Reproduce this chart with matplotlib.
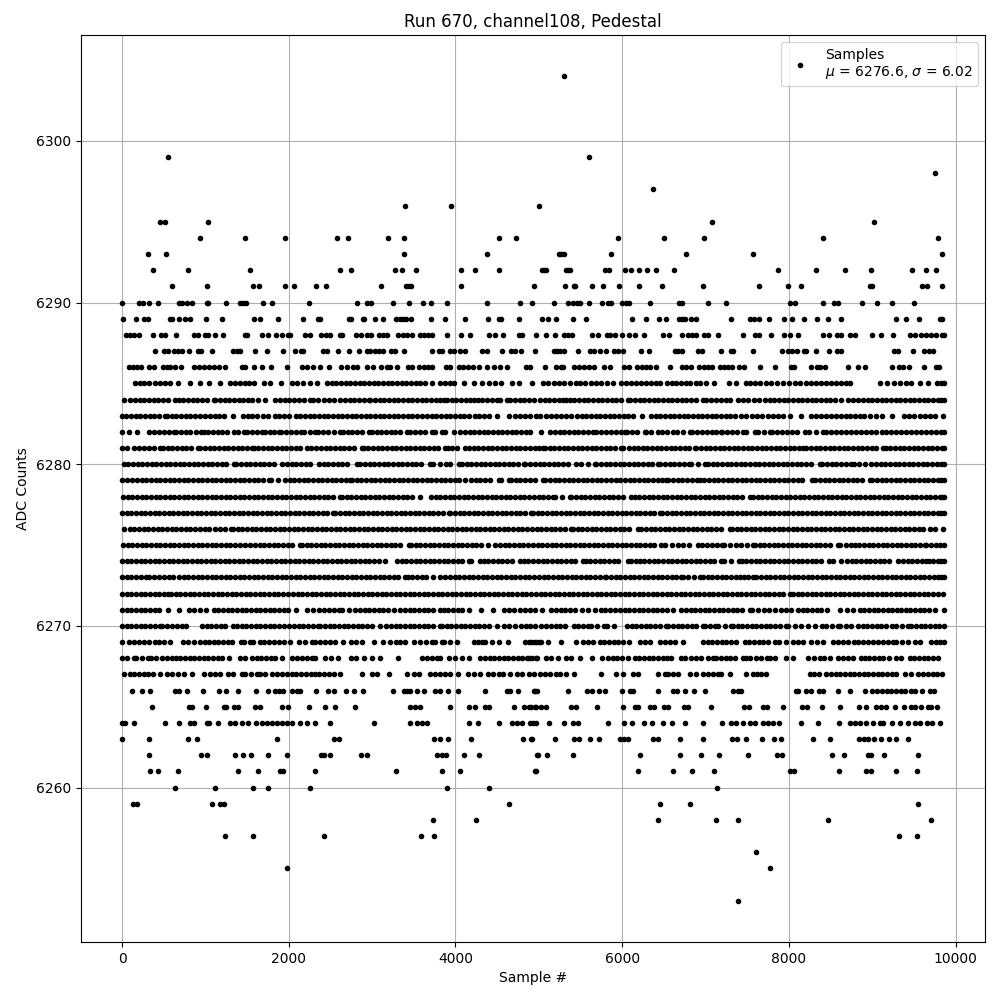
import matplotlib
matplotlib.use('Agg')
import matplotlib.pyplot as plt

# sample numbers at each ADC level
x_6304 = [5296]
x_6299 = [548, 5596]
x_6298 = [9748]
x_6297 = [6364]
x_6296 = [3392, 3944, 4996]
x_6295 = [452, 516, 1028, 7072, 9016]
x_6294 = [932, 1472, 1952, 2580, 2708, 3188, 3380, 4520, 4724, 5944, 6496, 6976, 8404, 9784]
x_6293 = [308, 524, 3380, 4376, 5236, 5264, 5296, 5860, 6760, 7564, 9832]
x_6292 = [368, 788, 1532, 2612, 2744, 3272, 3360, 3524, 4064, 4232, 4520, 5036, 5064, 5088, 5320, 5344,
          5368, 5788, 5836, 6028, 6100, 6196, 6292, 6400, 6616, 7864, 8320, 8668, 8980, 9472, 9640, 9760]
x_6291 = [596, 1016, 1568, 1640, 1952, 2060, 2324, 2444, 3104, 3412, 3440, 3464, 4064, 4940, 5308, 5416,
          5432, 5632, 5764, 5956, 6196, 6472, 6964, 7636, 7984, 8140, 8968, 8992, 9592, 9652, 9832]
x_6290 = [0, 200, 248, 320, 428, 680, 716, 776, 836, 1016, 1028, 1244, 1412, 1448, 1484, 1688, 1796, 2240,
          2816, 2936, 2984, 3248, 3440, 3608, 3704, 3896, 4376, 4772, 4916, 5176, 5344, 5404, 5452, 5488,
          5596, 5752, 5824, 5860, 5992, 6040, 6076, 6328, 6676, 6712, 7024, 7240, 8008, 8068, 8404, 8536,
          8584, 8872, 9052, 9232, 9496]
x_6289 = [8, 164, 260, 308, 572, 596, 680, 752, 812, 1004, 1196, 1580, 1652, 1868, 2168, 2348, 2372, 2720,
          2744, 2888, 2908, 3032, 3128, 3284, 3332, 3368, 3404, 3464, 3704, 3872, 4112, 4388, 4520, 4544,
          4760, 5032, 5104, 5200, 5404, 5560, 6112, 6280, 6436, 6520, 6676, 6712, 6748, 6820, 6880, 7300,
          7528, 7576, 7636, 7756, 7936, 8032, 8176, 8332, 8464, 8620, 9280, 9400, 9556, 9808, 9832]
x_6288 = [48, 92, 140, 200, 368, 464, 512, 644, 860, 908, 992, 1028, 1112, 1208, 1472, 1496, 1676, 1748,
          1844, 1916, 1988, 2012, 2192, 2252, 2384, 2444, 2492, 2612, 2644, 2804, 2864, 2936, 2984, 3080,
          3128, 3176, 3308, 3368, 3420, 3476, 3572, 3620, 3668, 3716, 3896, 4064, 4172, 4400, 4472, 4568,
          4760, 4796, 4960, 5080, 5188, 5296, 5344, 5392, 5632, 5704, 5812, 5848, 5908, 5992, 6076, 6148,
          6256, 6484, 6556, 6712, 6784, 6832, 6880, 6976, 7024, 7144, 7444, 7588, 7636, 7780, 7936, 8008,
          8104, 8404, 8476, 8572, 8620, 8728, 8788, 8992, 9100, 9244, 9448, 9508, 9580, 9640, 9700, 9760,
          9832, 9860]
x_6287 = [392, 500, 548, 620, 668, 716, 800, 908, 944, 1076, 1328, 1376, 1412, 1592, 1736, 1928, 2072, 2144,
          2168, 2408, 2456, 2588, 2720, 2840, 2936, 2972, 3032, 3080, 3128, 3224, 3272, 3380, 3716, 3800,
          3836, 3932, 3980, 4052, 4112, 4316, 4376, 4556, 4664, 4712, 4784, 4952, 5176, 5216, 5256, 5296,
          5464, 5608, 5656, 5728, 5800, 5896, 5944, 6004, 6220, 6316, 6628, 6670, 6712, 6904, 6952, 7180,
          7300, 7324, 7564, 7912, 7984, 8032, 8092, 8176, 8200, 8320, 8476, 8572, 8620, 9256, 9304, 9484,
          9616, 9676, 9724]
x_6286 = [80, 128, 180, 228, 320, 380, 488, 540, 580, 632, 704, 860, 920, 980, 1040, 1100, 1160, 1232, 1436,
          1472, 1580, 1676, 1784, 1976, 2156, 2216, 2288, 2372, 2480, 2624, 2696, 2768, 2816, 2936, 3008,
          3104, 3176, 3212, 3296, 3428, 3476, 3560, 3620, 3668, 3716, 3884, 3932, 4040, 4088, 4148, 4208,
          4280, 4376, 4460, 4532, 4616, 4844, 4892, 5068, 5200, 5260, 5284, 5416, 5476, 5536, 5596, 5656,
          5776, 5848, 6016, 6076, 6176, 6236, 6280, 6328, 6400, 6568, 6712, 6760, 6820, 6916, 6976, 7024,
          7072, 7168, 7216, 7264, 7312, 7396, 7456, 7648, 7828, 8020, 8056, 8260, 8332, 8368, 8428, 8704,
          8824, 8908, 9232, 9316, 9364, 9436, 9616, 9760, 9796]
x_6285 = [160, 212, 268, 320, 400, 456, 520, 580, 672, 812, 940, 1040, 1172, 1300, 1356, 1412, 1472, 1528,
          1588, 1700, 1780, 1908, 2040, 2104, 2172, 2260, 2340, 2460, 2516, 2572, 2628, 2684, 2740, 2796,
          2852, 2908, 2964, 3020, 3076, 3132, 3188, 3244, 3300, 3356, 3412, 3468, 3524, 3580, 3636, 3720,
          3820, 3876, 3932, 3980, 4100, 4220, 4320, 4400, 4480, 4548, 4680, 4760, 4920, 5048, 5112, 5176,
          5240, 5296, 5372, 5448, 5488, 5556, 5624, 5688, 5748, 5816, 5888, 5988, 6048, 6108, 6168, 6228,
          6288, 6348, 6400, 6448, 6536, 6592, 6648, 6704, 6760, 6816, 6888, 6936, 7008, 7100, 7280, 7360,
          7488, 7528, 7588, 7656, 7724, 7788, 7856, 7924, 7996, 8068, 8136, 8208, 8268, 8328, 8388, 8448,
          8508, 8568, 8628, 8688, 8728, 9096, 9176, 9256, 9332, 9408, 9468, 9576, 9668, 9776, 9820, 9860]
x_6284 = [20, 100, 156, 212, 268, 324, 380, 436, 492, 548, 640, 680, 736, 792, 848, 904, 960, 1016, 1100,
          1120, 1176, 1232, 1288, 1344, 1400, 1456, 1512, 1560, 1632, 1712, 1840, 1896, 1952, 2008, 2064,
          2120, 2180, 2260, 2292, 2356, 2420, 2480, 2548, 2620, 2676, 2732, 2788, 2844, 2900, 2960, 2980,
          3036, 3092, 3148, 3204, 3260, 3316, 3372, 3428, 3484, 3540, 3596, 3652, 3708, 3764, 3820, 3860,
          3900, 3960, 4012, 4068, 4124, 4180, 4220, 4268, 4324, 4380, 4436, 4500, 4540, 4620, 4660, 4716,
          4772, 4828, 4884, 4940, 5016, 5068, 5124, 5180, 5236, 5292, 5328, 5368, 5424, 5480, 5536, 5592,
          5648, 5704, 5760, 5816, 5872, 5928, 5984, 6068, 6096, 6152, 6208, 6264, 6320, 6376, 6432, 6488,
          6544, 6600, 6656, 6712, 6768, 6824, 6880, 6968, 7008, 7068, 7128, 7188, 7248, 7288, 7388, 7448,
          7512, 7576, 7640, 7708, 7768, 7824, 7880, 7936, 7992, 8048, 8104, 8160, 8216, 8272, 8328, 8384,
          8440, 8496, 8552, 8628, 8708, 8768, 8828, 8888, 8944, 9000, 9056, 9112, 9168, 9224, 9280, 9336,
          9392, 9448, 9504, 9560, 9616, 9672, 9728, 9784, 9830, 9860]
x_6283 = [0, 52, 108, 164, 220, 276, 332, 388, 444, 520, 540, 596, 652, 708, 764, 820, 880, 940, 1000, 1056,
          1112, 1160, 1220, 1332, 1452, 1508, 1564, 1620, 1692, 1748, 1840, 1880, 1940, 2000, 2084, 2140,
          2196, 2252, 2308, 2364, 2420, 2476, 2532, 2588, 2644, 2700, 2756, 2812, 2868, 2924, 2980, 3036,
          3092, 3148, 3204, 3260, 3316, 3372, 3428, 3484, 3540, 3600, 3660, 3716, 3772, 3828, 3884, 3940,
          3996, 4052, 4108, 4164, 4240, 4280, 4340, 4400, 4500, 4640, 4710, 4780, 4840, 4900, 4960, 5016,
          5088, 5148, 5208, 5268, 5328, 5388, 5456, 5512, 5568, 5624, 5680, 5736, 5792, 5848, 5904, 5960,
          6016, 6072, 6128, 6240, 6348, 6400, 6456, 6512, 6568, 6624, 6680, 6736, 6792, 6848, 6904, 6960,
          7016, 7072, 7128, 7184, 7240, 7296, 7352, 7428, 7488, 7552, 7616, 7680, 7744, 7808, 7868, 7928,
          8008, 8148, 8268, 8328, 8388, 8448, 8508, 8568, 8628, 8688, 8728, 8788, 8848, 8896, 8972, 9048,
          9116, 9240, 9376, 9440, 9504, 9568, 9628, 9688, 9748, 9848]
x_6282 = [0, 80, 180, 320, 380, 440, 500, 560, 620, 652, 708, 764, 820, 884, 948, 980, 1036, 1092, 1148,
          1204, 1260, 1340, 1388, 1468, 1500, 1560, 1620, 1680, 1720, 1772, 1824, 1880, 1908, 1968, 2028,
          2088, 2148, 2180, 2250, 2320, 2348, 2412, 2476, 2540, 2620, 2652, 2708, 2764, 2820, 2876, 2960,
          3000, 3056, 3112, 3168, 3224, 3280, 3336, 3420, 3460, 3520, 3580, 3640, 3720, 3760, 3840, 3880,
          3980, 4060, 4116, 4172, 4228, 4284, 4340, 4396, 4452, 4508, 4564, 4620, 4676, 4732, 4788, 4844,
          4900, 5020, 5136, 5192, 5248, 5304, 5360, 5416, 5472, 5528, 5584, 5648, 5680, 5740, 5800, 5860,
          5920, 5980, 6028, 6060, 6120, 6180, 6268, 6288, 6350, 6428, 6472, 6540, 6608, 6660, 6730, 6808,
          6840, 6900, 6960, 7020, 7080, 7130, 7180, 7200, 7260, 7320, 7380, 7448, 7488, 7588, 7628, 7700,
          7776, 7800, 7860, 7920, 7980, 8040, 8100, 8188, 8240, 8320, 8408, 8440, 8500, 8560, 8620, 8680,
          8740, 8800, 8860, 8920, 8980, 9040, 9120, 9160, 9220, 9280, 9340, 9408, 9468, 9528, 9588, 9648,
          9708, 9768, 9828, 9860]
x_6281 = [0, 60, 140, 200, 260, 320, 380, 460, 490, 546, 602, 658, 714, 770, 826, 908, 940, 996, 1052, 1108,
          1164, 1220, 1276, 1332, 1388, 1444, 1500, 1560, 1580, 1636, 1692, 1748, 1804, 1860, 1916, 1972,
          2028, 2084, 2140, 2220, 2272, 2332, 2388, 2444, 2500, 2556, 2612, 2668, 2724, 2780, 2880, 2900,
          2956, 3012, 3068, 3124, 3180, 3236, 3292, 3348, 3404, 3460, 3516, 3572, 3628, 3684, 3740, 3796,
          3880, 3908, 3964, 4020, 4120, 4160, 4220, 4276, 4332, 4388, 4444, 4500, 4556, 4612, 4668, 4724,
          4780, 4836, 4892, 4948, 5004, 5048, 5072, 5128, 5184, 5240, 5296, 5352, 5408, 5464, 5520, 5576,
          5632, 5688, 5744, 5800, 5856, 5912, 5988, 6008, 6080, 6140, 6188, 6244, 6300, 6356, 6412, 6468,
          6524, 6580, 6636, 6692, 6748, 6804, 6868, 6888, 6944, 7000, 7056, 7112, 7168, 7224, 7280, 7336,
          7392, 7448, 7504, 7560, 7616, 7672, 7728, 7784, 7840, 7896, 7952, 8008, 8064, 8120, 8168, 8208,
          8264, 8320, 8376, 8432, 8488, 8544, 8600, 8656, 8712, 8768, 8824, 8880, 8936, 8992, 9048, 9128,
          9160, 9216, 9272, 9328, 9384, 9440, 9496, 9552, 9608, 9664, 9720, 9776, 9832, 9860]
x_6280 = [20, 76, 132, 188, 244, 300, 356, 412, 468, 524, 580, 636, 692, 748, 804, 860, 916, 972, 1028, 1084,
          1140, 1196, 1252, 1340, 1372, 1428, 1484, 1540, 1596, 1652, 1708, 1764, 1820, 1920, 1980, 2036,
          2092, 2148, 2204, 2260, 2360, 2420, 2476, 2532, 2588, 2644, 2700, 2820, 2860, 2916, 2972, 3028,
          3084, 3140, 3196, 3252, 3308, 3364, 3420, 3476, 3532, 3588, 3692, 3732, 3812, 3892, 3940, 4040,
          4080, 4136, 4192, 4248, 4304, 4360, 4416, 4472, 4528, 4584, 4640, 4696, 4752, 4820, 4840, 4896,
          4952, 5008, 5064, 5120, 5176, 5232, 5288, 5344, 5448, 5508, 5588, 5668, 5688, 5744, 5800, 5856,
          5912, 5968, 6024, 6080, 6136, 6192, 6248, 6304, 6360, 6428, 6456, 6512, 6568, 6624, 6680, 6736,
          6800, 6828, 6908, 6988, 7028, 7084, 7140, 7196, 7252, 7308, 7364, 7420, 7476, 7532, 7588, 7644,
          7700, 7756, 7812, 7868, 7924, 7980, 8036, 8092, 8148, 8204, 8260, 8368, 8400, 8456, 8512, 8568,
          8624, 8680, 8748, 8776, 8840, 8908, 8988, 9044, 9100, 9156, 9212, 9268, 9324, 9380, 9436, 9492,
          9548, 9604, 9660, 9716, 9772, 9828, 9860]
x_6279 = [0, 60, 120, 180, 236, 292, 348, 404, 460, 516, 572, 628, 684, 740, 796, 852, 908, 964, 1020, 1076,
          1132, 1188, 1244, 1300, 1356, 1412, 1468, 1524, 1580, 1636, 1692, 1760, 1788, 1870, 1960, 2012,
          2068, 2124, 2180, 2236, 2292, 2348, 2404, 2460, 2516, 2572, 2628, 2684, 2740, 2760, 2816, 2872,
          2928, 2984, 3040, 3096, 3152, 3208, 3264, 3320, 3376, 3432, 3488, 3544, 3600, 3656, 3712, 3768,
          3824, 3880, 3936, 3992, 4048, 4120, 4188, 4244, 4300, 4356, 4412, 4520, 4548, 4640, 4668, 4724,
          4780, 4836, 4892, 4948, 5048, 5076, 5132, 5188, 5244, 5300, 5356, 5412, 5468, 5524, 5580, 5636,
          5692, 5748, 5808, 5864, 5920, 5976, 6032, 6088, 6144, 6200, 6256, 6312, 6368, 6424, 6480, 6528,
          6552, 6608, 6664, 6720, 6776, 6832, 6900, 6928, 6984, 7040, 7096, 7152, 7208, 7264, 7320, 7376,
          7432, 7488, 7544, 7600, 7656, 7712, 7768, 7824, 7880, 7936, 7992, 8048, 8104, 8160, 8276, 8316,
          8372, 8428, 8484, 8540, 8596, 8652, 8708, 8764, 8820, 8876, 8976, 9000, 9056, 9112, 9168, 9224,
          9280, 9336, 9392, 9448, 9504, 9560, 9616, 9672, 9728, 9784, 9830, 9860]
x_6278 = [12, 68, 124, 180, 236, 292, 348, 404, 460, 516, 572, 628, 684, 740, 796, 852, 908, 964, 1020, 1076,
          1132, 1188, 1244, 1300, 1356, 1412, 1468, 1524, 1580, 1636, 1692, 1748, 1804, 1860, 1916, 1972,
          2028, 2084, 2140, 2196, 2252, 2308, 2364, 2420, 2476, 2532, 2620, 2640, 2696, 2752, 2808, 2864,
          2920, 2976, 3032, 3088, 3144, 3200, 3256, 3312, 3368, 3424, 3480, 3580, 3708, 3764, 3820, 3876,
          3932, 3988, 4044, 4100, 4156, 4212, 4268, 4324, 4380, 4436, 4492, 4548, 4604, 4660, 4716, 4772,
          4828, 4884, 4940, 4996, 5052, 5108, 5168, 5192, 5280, 5368, 5388, 5444, 5500, 5556, 5612, 5668,
          5724, 5780, 5836, 5892, 5948, 6004, 6108, 6148, 6204, 6260, 6316, 6372, 6428, 6484, 6540, 6596,
          6652, 6708, 6764, 6820, 6876, 6932, 6988, 7044, 7100, 7156, 7212, 7268, 7324, 7380, 7436, 7528,
          7568, 7624, 7680, 7736, 7792, 7848, 7904, 7960, 8016, 8072, 8128, 8184, 8240, 8296, 8352, 8408,
          8464, 8520, 8576, 8632, 8688, 8744, 8800, 8856, 8912, 8968, 9024, 9080, 9136, 9192, 9248, 9304,
          9360, 9416, 9472, 9528, 9584, 9640, 9696, 9752, 9808, 9840, 9860]
x_6277 = [0, 56, 112, 168, 224, 280, 336, 392, 448, 504, 560, 616, 672, 728, 784, 840, 896, 952, 1008, 1064,
          1120, 1176, 1232, 1288, 1344, 1400, 1456, 1512, 1568, 1624, 1680, 1736, 1792, 1848, 1904, 1960,
          2016, 2072, 2128, 2184, 2240, 2296, 2352, 2408, 2464, 2532, 2560, 2616, 2672, 2728, 2784, 2840,
          2896, 2952, 3008, 3064, 3120, 3176, 3232, 3288, 3344, 3400, 3456, 3512, 3568, 3624, 3680, 3736,
          3792, 3848, 3920, 3940, 3996, 4052, 4108, 4164, 4220, 4276, 4332, 4388, 4444, 4500, 4556, 4612,
          4668, 4724, 4780, 4836, 4908, 4928, 4984, 5040, 5096, 5152, 5208, 5264, 5320, 5376, 5432, 5488,
          5544, 5600, 5656, 5712, 5768, 5824, 5880, 5936, 5992, 6048, 6104, 6160, 6216, 6272, 6328, 6384,
          6456, 6480, 6536, 6592, 6648, 6704, 6760, 6816, 6872, 6928, 6984, 7040, 7096, 7152, 7208, 7264,
          7320, 7376, 7432, 7488, 7544, 7600, 7656, 7712, 7768, 7824, 7880, 7936, 7992, 8048, 8104, 8160,
          8216, 8272, 8328, 8384, 8440, 8496, 8552, 8608, 8664, 8720, 8776, 8832, 8888, 8944, 9000, 9056,
          9112, 9168, 9224, 9280, 9336, 9392, 9448, 9504, 9560, 9616, 9672, 9728, 9784, 9830, 9860]
x_6276 = [28, 92, 148, 204, 260, 316, 372, 428, 484, 540, 596, 652, 708, 764, 820, 876, 932, 1000, 1048, 1112,
          1176, 1240, 1308, 1332, 1388, 1444, 1500, 1556, 1612, 1668, 1724, 1780, 1836, 1892, 1948, 2004,
          2060, 2116, 2172, 2228, 2284, 2340, 2396, 2452, 2508, 2564, 2620, 2676, 2732, 2788, 2844, 2900,
          2956, 3012, 3068, 3124, 3180, 3236, 3292, 3348, 3404, 3460, 3516, 3572, 3628, 3684, 3740, 3796,
          3852, 3908, 3964, 4020, 4076, 4132, 4188, 4244, 4300, 4356, 4412, 4468, 4524, 4580, 4636, 4692,
          4748, 4804, 4860, 4916, 4972, 5028, 5084, 5140, 5196, 5252, 5308, 5388, 5408, 5464, 5520, 5576,
          5632, 5688, 5744, 5800, 5856, 5912, 5968, 6024, 6080, 6188, 6228, 6284, 6340, 6396, 6452, 6508,
          6564, 6620, 6676, 6732, 6788, 6844, 6900, 6956, 7012, 7068, 7124, 7180, 7288, 7316, 7372, 7428,
          7484, 7540, 7596, 7652, 7708, 7764, 7820, 7876, 7932, 7988, 8044, 8100, 8156, 8212, 8268, 8324,
          8380, 8436, 8492, 8548, 8604, 8660, 8716, 8772, 8828, 8884, 8940, 8996, 9052, 9108, 9164, 9220,
          9276, 9332, 9388, 9444, 9500, 9556, 9612, 9688, 9752, 9848]
x_6275 = [12, 68, 124, 180, 236, 292, 348, 404, 460, 516, 572, 628, 684, 740, 796, 852, 908, 964, 1020, 1076,
          1132, 1188, 1244, 1300, 1356, 1412, 1480, 1540, 1596, 1652, 1708, 1764, 1820, 1876, 1932, 1988,
          2044, 2132, 2160, 2216, 2272, 2328, 2384, 2440, 2496, 2552, 2608, 2664, 2720, 2776, 2832, 2888,
          2944, 3000, 3056, 3112, 3168, 3224, 3280, 3336, 3440, 3468, 3524, 3580, 3636, 3692, 3748, 3804,
          3860, 3916, 3972, 4028, 4084, 4140, 4196, 4252, 4308, 4388, 4480, 4536, 4592, 4648, 4704, 4760,
          4816, 4872, 4928, 4984, 5040, 5096, 5152, 5208, 5264, 5320, 5376, 5432, 5488, 5544, 5600, 5656,
          5712, 5768, 5824, 5880, 5936, 5992, 6048, 6104, 6160, 6216, 6272, 6328, 6384, 6468, 6508, 6600,
          6668, 6732, 6796, 6908, 6960, 7020, 7080, 7140, 7200, 7220, 7290, 7360, 7430, 7500, 7568, 7592,
          7648, 7704, 7760, 7816, 7872, 7928, 7984, 8040, 8096, 8152, 8208, 8264, 8320, 8376, 8432, 8488,
          8588, 8608, 8680, 8748, 8788, 8844, 8900, 8956, 9012, 9068, 9124, 9180, 9236, 9292, 9348, 9404,
          9460, 9516, 9572, 9628, 9648, 9704, 9760, 9816, 9860]
x_6274 = [0, 56, 112, 168, 224, 280, 336, 392, 448, 504, 560, 616, 672, 728, 784, 840, 896, 952, 1008, 1064,
          1120, 1176, 1232, 1288, 1344, 1400, 1456, 1512, 1568, 1624, 1680, 1736, 1792, 1848, 1904, 1960,
          2016, 2072, 2128, 2184, 2240, 2296, 2352, 2408, 2464, 2520, 2576, 2632, 2688, 2744, 2800, 2856,
          2912, 2968, 3024, 3080, 3160, 3300, 3356, 3412, 3468, 3524, 3580, 3636, 3692, 3748, 3804, 3860,
          3916, 3972, 4028, 4084, 4160, 4188, 4292, 4340, 4396, 4452, 4508, 4564, 4620, 4676, 4772, 4820,
          4876, 4932, 4988, 5044, 5100, 5156, 5212, 5268, 5324, 5380, 5436, 5528, 5560, 5616, 5672, 5728,
          5784, 5840, 5896, 5952, 6068, 6108, 6160, 6208, 6264, 6320, 6376, 6432, 6488, 6544, 6600, 6656,
          6712, 6768, 6824, 6880, 6936, 6992, 7048, 7104, 7188, 7216, 7300, 7400, 7432, 7488, 7544, 7600,
          7656, 7712, 7768, 7824, 7880, 7936, 7992, 8048, 8104, 8160, 8216, 8272, 8328, 8384, 8480, 8528,
          8620, 8696, 8752, 8808, 8864, 8920, 8976, 9032, 9088, 9144, 9200, 9308, 9368, 9424, 9480, 9536,
          9592, 9648, 9676, 9732, 9788, 9830, 9860]
x_6273 = [0, 56, 112, 168, 224, 292, 320, 380, 440, 500, 560, 608, 680, 740, 796, 852, 908, 964, 1020, 1076,
          1132, 1188, 1244, 1300, 1356, 1412, 1468, 1524, 1580, 1636, 1692, 1748, 1804, 1860, 1916, 1972,
          2028, 2084, 2140, 2196, 2252, 2308, 2364, 2420, 2476, 2532, 2588, 2644, 2700, 2756, 2812, 2868,
          2924, 2980, 3036, 3092, 3148, 3204, 3260, 3316, 3400, 3428, 3484, 3540, 3596, 3652, 3732, 3820,
          3880, 3936, 3992, 4048, 4104, 4160, 4216, 4272, 4328, 4384, 4440, 4496, 4552, 4608, 4664, 4720,
          4776, 4832, 4888, 4944, 5000, 5056, 5112, 5168, 5224, 5280, 5336, 5392, 5448, 5504, 5560, 5616,
          5672, 5728, 5788, 5808, 5864, 5920, 5976, 6032, 6088, 6144, 6200, 6256, 6312, 6368, 6424, 6480,
          6536, 6592, 6648, 6708, 6728, 6790, 6860, 6928, 6968, 7024, 7080, 7136, 7192, 7248, 7304, 7360,
          7416, 7456, 7512, 7568, 7608, 7664, 7720, 7776, 7832, 7888, 7944, 8000, 8056, 8112, 8168, 8224,
          8280, 8336, 8392, 8448, 8504, 8560, 8616, 8672, 8728, 8784, 8840, 8896, 8952, 9008, 9064, 9120,
          9176, 9232, 9288, 9344, 9400, 9456, 9512, 9568, 9624, 9680, 9736, 9792, 9830, 9860]
x_6272 = [0, 56, 112, 168, 224, 280, 336, 392, 448, 504, 548, 588, 644, 700, 756, 812, 868, 924, 980, 1036,
          1092, 1148, 1204, 1260, 1316, 1372, 1428, 1484, 1540, 1596, 1652, 1708, 1764, 1820, 1876, 1932,
          1988, 2052, 2108, 2164, 2220, 2276, 2332, 2388, 2444, 2500, 2556, 2612, 2668, 2724, 2780, 2836,
          2892, 2948, 3004, 3060, 3116, 3172, 3228, 3284, 3340, 3396, 3452, 3508, 3564, 3620, 3676, 3732,
          3788, 3844, 3900, 3956, 4012, 4068, 4124, 4180, 4236, 4292, 4348, 4404, 4460, 4516, 4572, 4628,
          4684, 4740, 4796, 4852, 4908, 4964, 5020, 5076, 5132, 5188, 5244, 5300, 5356, 5412, 5468, 5524,
          5580, 5636, 5692, 5748, 5804, 5860, 5916, 5972, 6028, 6084, 6140, 6196, 6252, 6308, 6364, 6420,
          6476, 6532, 6588, 6644, 6700, 6756, 6812, 6868, 6924, 6980, 7036, 7092, 7148, 7204, 7260, 7316,
          7372, 7428, 7484, 7540, 7596, 7652, 7708, 7764, 7820, 7876, 7932, 8016, 8048, 8104, 8160, 8216,
          8272, 8328, 8384, 8440, 8496, 8552, 8608, 8664, 8720, 8776, 8832, 8888, 8944, 9000, 9056, 9112,
          9168, 9224, 9280, 9336, 9392, 9448, 9504, 9560, 9616, 9672, 9728, 9784, 9848]
x_6271 = [0, 56, 112, 168, 224, 280, 336, 400, 448, 548, 680, 800, 866, 932, 1012, 1100, 1156, 1212, 1268,
          1324, 1380, 1436, 1492, 1548, 1604, 1660, 1716, 1772, 1828, 1884, 1940, 1996, 2092, 2220, 2290,
          2360, 2420, 2484, 2548, 2600, 2640, 2720, 2800, 2856, 2912, 2968, 3024, 3080, 3136, 3192, 3260,
          3340, 3396, 3452, 3508, 3564, 3620, 3676, 3732, 3820, 3860, 3916, 3972, 4028, 4080, 4160, 4308,
          4448, 4580, 4644, 4708, 4772, 4840, 4900, 4952, 5032, 5148, 5204, 5260, 5316, 5372, 5428, 5520,
          5588, 5668, 5748, 5788, 5850, 5912, 5976, 6028, 6084, 6140, 6196, 6252, 6308, 6364, 6420, 6476,
          6532, 6608, 6708, 6764, 6820, 6876, 6932, 6988, 7044, 7100, 7156, 7212, 7268, 7324, 7380, 7436,
          7528, 7560, 7628, 7696, 7764, 7828, 7908, 7968, 8028, 8108, 8164, 8220, 8276, 8332, 8388, 8456,
          8616, 8692, 8768, 8848, 8904, 8960, 9016, 9072, 9128, 9184, 9240, 9296, 9348, 9400, 9456, 9512,
          9568, 9624, 9680, 9748, 9856]
x_6270 = [0, 56, 112, 168, 224, 280, 336, 392, 460, 480, 540, 600, 660, 720, 772, 960, 1016, 1072, 1128, 1184,
          1240, 1332, 1380, 1436, 1492, 1548, 1604, 1660, 1716, 1772, 1828, 1884, 1940, 2000, 2060, 2120,
          2176, 2232, 2288, 2348, 2380, 2436, 2492, 2548, 2604, 2660, 2716, 2772, 2828, 2884, 2940, 2996,
          3100, 3164, 3228, 3284, 3340, 3396, 3452, 3508, 3564, 3620, 3676, 3732, 3820, 3840, 3896, 3952,
          4008, 4064, 4120, 4176, 4232, 4288, 4344, 4400, 4500, 4588, 4648, 4720, 4790, 4852, 4892, 4950,
          5020, 5088, 5144, 5200, 5256, 5312, 5416, 5472, 5530, 5588, 5628, 5700, 5776, 5820, 5904, 6056,
          6112, 6168, 6224, 6280, 6336, 6392, 6448, 6528, 6552, 6608, 6664, 6720, 6776, 6832, 6888, 6968,
          6988, 7050, 7108, 7148, 7228, 7308, 7328, 7384, 7440, 7496, 7552, 7608, 7664, 7720, 7776, 7832,
          7888, 7960, 7988, 8068, 8148, 8232, 8308, 8400, 8448, 8520, 8588, 8608, 8680, 8748, 8828, 8884,
          8940, 8996, 9052, 9108, 9164, 9240, 9288, 9360, 9428, 9468, 9524, 9580, 9636, 9692, 9748, 9804, 9860]
x_6269 = [0, 80, 140, 200, 260, 320, 400, 440, 500, 572, 728, 788, 860, 930, 1000, 1044, 1100, 1156, 1212, 1268,
          1324, 1428, 1460, 1532, 1572, 1652, 1700, 1760, 1820, 1880, 1940, 2012, 2120, 2200, 2280, 2320,
          2380, 2440, 2500, 2560, 2652, 2748, 2810, 2880, 3020, 3128, 3220, 3292, 3332, 3400, 3500, 3580,
          3650, 3720, 3760, 3840, 3860, 3940, 4020, 4220, 4270, 4320, 4360, 4440, 4520, 4628, 4832, 4908,
          4964, 5020, 4888, 4944, 5000, 5108, 5264, 5448, 5528, 5588, 5648, 5728, 5784, 5840, 5896, 5952,
          6008, 6080, 6208, 6270, 6336, 6448, 6510, 6570, 6630, 6728, 6968, 7024, 7080, 7136, 7192, 7248,
          7304, 7360, 7468, 7524, 7580, 7636, 7692, 7748, 7828, 7880, 7968, 8048, 8108, 8168, 8268, 8340,
          8408, 8528, 8590, 8650, 8710, 8776, 8828, 8890, 8948, 9008, 9070, 9128, 9188, 9248, 9288, 9360,
          9428, 9508, 9568, 9708, 9760, 9810, 9860]
x_6268 = [0, 60, 140, 172, 240, 308, 348, 412, 476, 540, 604, 644, 700, 756, 812, 868, 924, 980, 1036, 1092,
          1148, 1200, 1280, 1412, 1480, 1560, 1616, 1672, 1728, 1784, 1840, 1920, 2040, 2100, 2160, 2220,
          2280, 2320, 2440, 2508, 2588, 2748, 2812, 2900, 3000, 3092, 3316, 3600, 3660, 3720, 3780, 3820,
          3920, 4000, 4080, 4160, 4300, 4356, 4412, 4468, 4524, 4580, 4636, 4692, 4748, 4804, 4860, 4916,
          4980, 4888, 4968, 5088, 5150, 5228, 5320, 5384, 5488, 5636, 5756, 5828, 5888, 5936, 6000, 6068,
          6148, 6204, 6260, 6316, 6372, 6428, 6484, 6540, 6588, 6708, 6756, 6820, 6884, 6948, 7028, 7088,
          7128, 7184, 7240, 7296, 7352, 7448, 7480, 7536, 7608, 7668, 7736, 7776, 7832, 7968, 8048, 8232,
          8300, 8368, 8420, 8488, 8588, 8650, 8708, 8768, 8860, 8908, 8964, 9020, 9076, 9128, 9200, 9288,
          9348, 9448, 9504, 9560, 9616, 9672, 9728, 9788]
x_6267 = [20, 100, 148, 204, 260, 316, 372, 460, 540, 600, 668, 740, 836, 988, 1050, 1120, 1172, 1268, 1332,
          1440, 1480, 1550, 1620, 1660, 1720, 1800, 1860, 1920, 1980, 2040, 2092, 2150, 2210, 2270, 2320,
          2360, 2420, 2480, 2540, 2620, 2880, 3004, 3060, 3200, 3420, 3500, 3560, 3700, 3760, 3820, 3872,
          3940, 4028, 4148, 4220, 4292, 4388, 4450, 4520, 4572, 4650, 4740, 4800, 4880, 4940, 5008, 5068,
          5130, 5200, 5256, 5320, 5420, 5744, 5928, 6008, 6128, 6188, 6428, 6508, 6548, 6610, 6668, 6816,
          6890, 6968, 7028, 7090, 7148, 7188, 7288, 7488, 7568, 7616, 7668, 7728, 8248, 8300, 8360, 8448,
          8504, 8560, 8616, 8672, 8728, 8784, 8840, 8896, 8952, 9008, 9064, 9120, 9176, 9232, 9288, 9388,
          9468, 9548, 9608, 9668, 9728, 9776, 9840]
x_6266 = [116, 236, 340, 632, 680, 776, 968, 1160, 1244, 1388, 1604, 1748, 1832, 1880, 1928, 2036, 2100, 2140,
          2324, 2468, 2540, 2684, 2780, 2892, 3248, 3380, 3420, 3460, 3540, 3620, 3752, 3820, 3908, 4028,
          4352, 4620, 4660, 4748, 4940, 4980, 4948, 5348, 5576, 5636, 5716, 5792, 5996, 6088, 6128, 6428,
          6608, 6656, 6752, 6860, 6992, 7328, 7388, 7428, 8088, 8112, 8208, 8268, 8360, 8408, 8588, 8732,
          8912, 8996, 9056, 9116, 9176, 9228, 9288, 9340, 9388, 9468, 9508, 9596, 9688, 9740]
x_6265 = [356, 800, 836, 1012, 1220, 1248, 1348, 1388, 1592, 1652, 1916, 1988, 2240, 2432, 2552, 2792, 3460,
          3520, 3580, 3932, 4160, 4232, 4360, 4400, 4700, 4820, 4880, 4960, 4908, 4948, 5028, 5088, 5388,
          5440, 5700, 6004, 6148, 6188, 6328, 6376, 6500, 6548, 6740, 6792, 7064, 7460, 7524, 7688, 7736,
          7928, 8160, 8216, 8396, 8612, 8836, 8924, 9048, 9110, 9170, 9268, 9380, 9468, 9516, 9588, 9668,
          9708, 9776]
x_6264 = [0, 40, 140, 512, 680, 812, 860, 1020, 1048, 1148, 1300, 1360, 1436, 1508, 1604, 1680, 1740, 1800,
          1860, 1920, 1980, 2040, 2140, 2220, 2320, 2492, 3020, 3452, 3540, 3600, 3660, 4160, 4268, 4528,
          4680, 4740, 4800, 4900, 4960, 4928, 5120, 5300, 5408, 5468, 5828, 6020, 6116, 6260, 6356, 6488,
          6596, 6748, 6968, 7196, 7308, 7370, 7448, 7536, 7592, 7688, 7750, 7810, 7880, 8144, 8348, 8600,
          8728, 8790, 8850, 8928, 9008, 9088, 9128, 9236, 9328, 9428, 9516, 9568, 9660, 9720, 9812]
x_6263 = [0, 320, 788, 896, 1856, 2540, 2600, 3740, 3820, 3908, 4184, 4808, 4916, 4908, 5192, 5420, 5480, 5612,
          5720, 5968, 6020, 6068, 6368, 6428, 6692, 6968, 7316, 7376, 7480, 7676, 7820, 7904, 8288, 8492,
          8840, 8900, 8948, 9020, 9104, 9200, 9288, 9428]
x_6262 = [320, 944, 1016, 1352, 1448, 1544, 1748, 1976, 2388, 2420, 2500, 2864, 2936, 3776, 3840, 3884, 4100,
          4280, 4988, 4976, 5096, 5408, 6212, 6692, 6944, 7160, 7508, 7856, 7916, 8516, 8660, 8948, 8984,
          9140, 9548]
x_6261 = [332, 428, 668, 1388, 1628, 1892, 1928, 2312, 3284, 3836, 4052, 4964, 4952, 6188, 6608, 6836, 7100,
          8012, 8060, 8600, 8924, 8984, 9284, 9536]
x_6260 = [632, 1112, 1568, 1748, 2252, 3896, 4400, 7136]
x_6259 = [128, 176, 1076, 1180, 1220, 4640, 6452, 6812, 9548]
x_6258 = [3728, 4244, 6428, 7124, 7388, 8468, 9704]
x_6257 = [1232, 1568, 2420, 3584, 3740, 9320, 9536]
x_6256 = [7604]
x_6255 = [1976, 7772]
x_6253 = [7388]

levels = {6304: x_6304, 6299: x_6299, 6298: x_6298, 6297: x_6297, 6296: x_6296, 6295: x_6295,
          6294: x_6294, 6293: x_6293, 6292: x_6292, 6291: x_6291, 6290: x_6290, 6289: x_6289,
          6288: x_6288, 6287: x_6287, 6286: x_6286, 6285: x_6285, 6284: x_6284, 6283: x_6283,
          6282: x_6282, 6281: x_6281, 6280: x_6280, 6279: x_6279, 6278: x_6278, 6277: x_6277,
          6276: x_6276, 6275: x_6275, 6274: x_6274, 6273: x_6273, 6272: x_6272, 6271: x_6271,
          6270: x_6270, 6269: x_6269, 6268: x_6268, 6267: x_6267, 6266: x_6266, 6265: x_6265,
          6264: x_6264, 6263: x_6263, 6262: x_6262, 6261: x_6261, 6260: x_6260, 6259: x_6259,
          6258: x_6258, 6257: x_6257, 6256: x_6256, 6255: x_6255, 6253: x_6253}

xs = []
ys = []
for adc, samples in levels.items():
    xs += samples
    ys += [adc] * len(samples)

plt.figure(figsize=(10, 10))
plt.plot(xs, ys, 'k.', label='Samples\n$\\mu$ = 6276.6, $\\sigma$ = 6.02')
plt.title('Run 670, channel108, Pedestal')
plt.xlabel('Sample #')
plt.ylabel('ADC Counts')
plt.grid(True)
plt.legend(loc='upper right')
plt.subplots_adjust(left=0.081, right=0.985, top=0.965, bottom=0.058)
plt.savefig('out.png', dpi=100)
